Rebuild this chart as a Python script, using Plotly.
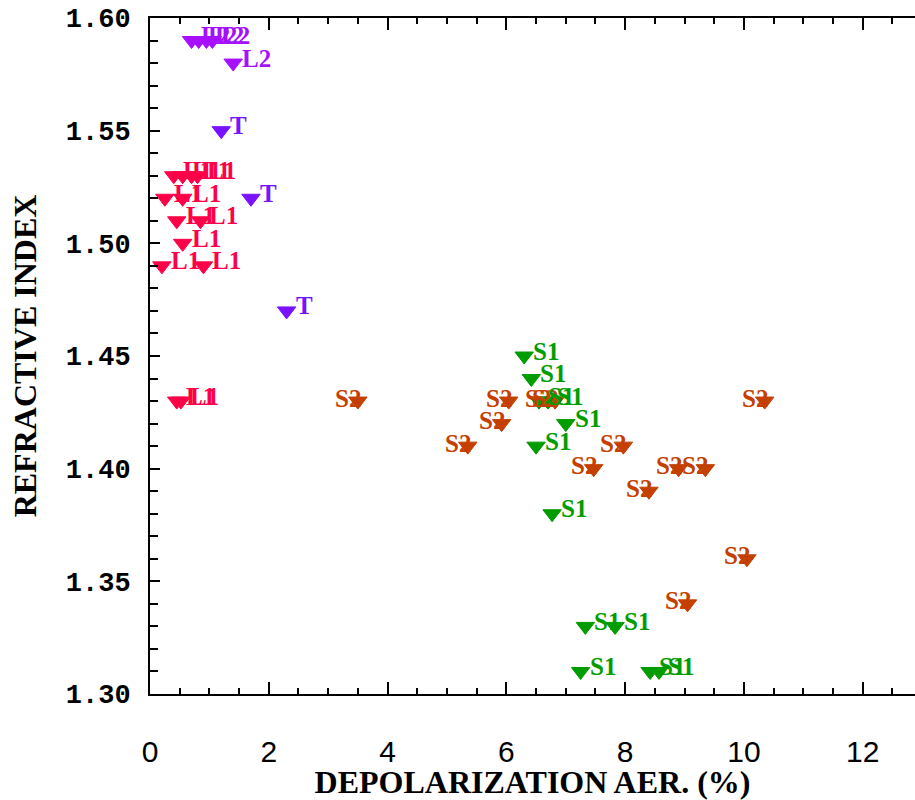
import plotly.graph_objects as go

# ---- data ----
L2_x = [0.7, 0.82, 0.95, 1.05, 1.4]
L2_y = [1.59, 1.59, 1.59, 1.59, 1.58]

T_x = [1.2, 1.7, 2.3]
T_y = [1.55, 1.52, 1.47]

L1_x = [0.4, 0.55, 0.7, 0.8, 0.25, 0.55, 0.45, 0.85, 0.55, 0.2, 0.9, 0.45, 0.52]
L1_y = [1.53, 1.53, 1.53, 1.53, 1.52, 1.52, 1.51, 1.51, 1.50, 1.49, 1.49, 1.43, 1.43]

S2_x = [3.5, 5.35, 5.92, 6.04, 6.7, 6.82, 7.97, 7.47, 8.4, 8.9, 9.35, 10.35, 10.05, 9.05]
S2_y = [1.43, 1.41, 1.42, 1.43, 1.43, 1.43, 1.41, 1.40, 1.39, 1.40, 1.40, 1.43, 1.36, 1.34]

S1_x = [6.3, 6.42, 6.55, 6.7, 7.0, 6.5, 6.77, 7.33, 7.83, 7.25, 8.42, 8.57]
S1_y = [1.45, 1.44, 1.43, 1.43, 1.42, 1.41, 1.38, 1.33, 1.33, 1.31, 1.31, 1.31]

y_ticks = [1.30, 1.35, 1.40, 1.45, 1.50, 1.55, 1.60]
x_ticks = [0, 2, 4, 6, 8, 10, 12]

series = [
    # name, xs, ys, colour, label side
    ("L1", L1_x, L1_y, "#FF0048", "right"),
    ("L2", L2_x, L2_y, "#A610FF", "right"),
    ("T", T_x, T_y, "#7A12FF", "right"),
    ("S2", S2_x, S2_y, "#C44000", "left"),
    ("S1", S1_x, S1_y, "#009C00", "right"),
]

fig = go.Figure()
annotations = []
for name, xs, ys, col, side in series:
    fig.add_trace(go.Scatter(
        x=xs, y=ys, mode="markers", name=name, showlegend=False,
        marker=dict(symbol="triangle-down", size=16, color=col,
                    line=dict(color=col, width=1)),
        cliponaxis=False,
    ))
    for xv, yv in zip(xs, ys):
        if side == "right":
            annotations.append(dict(
                x=xv, y=yv, xref="x", yref="y", text=name, showarrow=False,
                xanchor="left", yanchor="middle", xshift=7, yshift=5,
                font=dict(family="Liberation Serif", size=25, color=col, weight="bold")))
        else:
            annotations.append(dict(
                x=xv, y=yv, xref="x", yref="y", text=name, showarrow=False,
                xanchor="right", yanchor="middle", xshift=5, yshift=3,
                font=dict(family="Liberation Serif", size=25, color=col, weight="bold")))

fig.update_layout(
    width=915, height=800,
    margin=dict(l=150, r=0, t=18, b=103),
    paper_bgcolor="white", plot_bgcolor="white",
    annotations=annotations,
    xaxis=dict(
        range=[0, 12.88], tickvals=x_ticks, ticktext=[str(v) for v in x_ticks],
        showgrid=False, zeroline=False,
        showline=True, linecolor="black", linewidth=2, mirror="ticks",
        ticks="inside", ticklen=12, tickwidth=1.5, tickcolor="black",
        minor=dict(dtick=0.5, tick0=0, ticks="inside", ticklen=6,
                   tickwidth=1.5, tickcolor="black", showgrid=False),
        tickfont=dict(family="Liberation Sans Narrow, Liberation Sans", size=30, color="black"),
        ticklabelstandoff=30,
        title=dict(text="DEPOLARIZATION AER. (%)", standoff=10,
                   font=dict(family="Liberation Serif", size=32, color="black", weight="bold")),
    ),
    yaxis=dict(
        range=[1.30, 1.60], tickvals=y_ticks, ticktext=["%.2f" % v for v in y_ticks],
        showgrid=False, zeroline=False,
        showline=True, linecolor="black", linewidth=2, mirror=False,
        ticks="inside", ticklen=10, tickwidth=1.5, tickcolor="black",
        minor=dict(dtick=0.01, tick0=1.30, ticks="inside", ticklen=8,
                   tickwidth=1.5, tickcolor="black", showgrid=False),
        tickfont=dict(family="Liberation Mono", size=27, color="black", weight="bold"),
        ticklabelstandoff=12,
        title=dict(text="REFRACTIVE INDEX", standoff=20,
                   font=dict(family="Liberation Serif", size=32, color="black", weight="bold")),
    ),
)

fig.write_html("out.html")
